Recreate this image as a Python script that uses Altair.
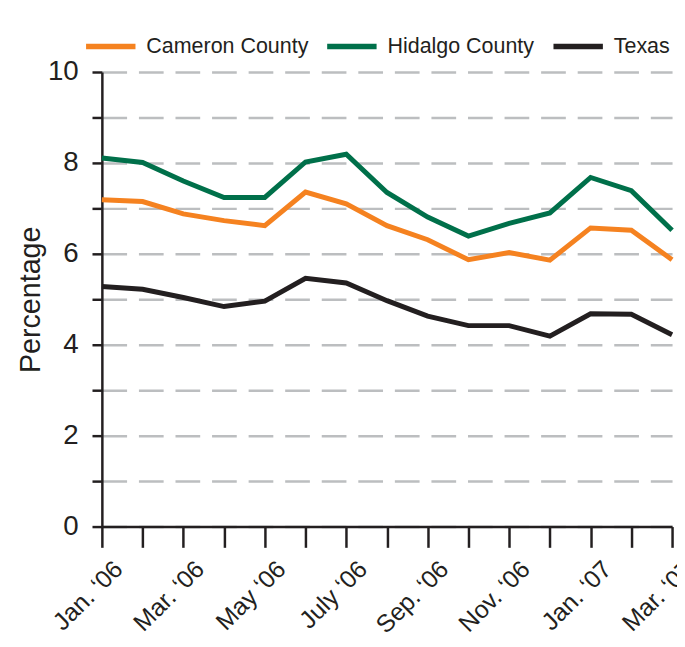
import altair as alt
import pandas as pd

months = ["Jan. ‘06", "Feb. ‘06", "Mar. ‘06", "Apr. ‘06", "May ‘06", "June ‘06", "July ‘06",
          "Aug. ‘06", "Sep. ‘06", "Oct. ‘06", "Nov. ‘06", "Dec. ‘06", "Jan. ‘07", "Feb. ‘07", "Mar. ‘07"]
cameron = [7.19, 7.15, 6.88, 6.73, 6.62, 7.36, 7.10, 6.62, 6.31, 5.87, 6.03, 5.86, 6.57, 6.52, 5.87]
hidalgo = [8.11, 8.01, 7.60, 7.24, 7.24, 8.02, 8.19, 7.35, 6.81, 6.39, 6.67, 6.90, 7.68, 7.39, 6.52]
texas = [5.28, 5.22, 5.04, 4.84, 4.96, 5.46, 5.36, 4.97, 4.63, 4.42, 4.42, 4.19, 4.68, 4.67, 4.22]
series = ["Cameron County", "Hidalgo County", "Texas"]
colors = ["#F58220", "#00704A", "#231F20"]
y_ticks = list(range(0, 11))

rows = []
for name, vals in zip(series, [cameron, hidalgo, texas]):
    for i, v in enumerate(vals):
        rows.append({"idx": i, "month": months[i], "series": name, "value": v})
df = pd.DataFrame(rows)

label_js = "[" + ",".join("'" + m + "'" for m in months) + "]"
x_label_expr = "datum.value % 2 == 0 ? " + label_js + "[datum.value] : ''"

FONT = "Liberation Sans"
INK = "#231F20"

chart = alt.Chart(df).mark_line(strokeWidth=5).encode(
    x=alt.X("idx:Q",
            scale=alt.Scale(domain=[0, len(months) - 1], nice=False, zero=False),
            axis=alt.Axis(values=list(range(len(months))), labelExpr=x_label_expr,
                          labelAngle=315, labelAlign="right", labelBaseline="top",
                          labelFontSize=25, labelFont=FONT, labelColor=INK,
                          labelPadding=9, labelOffset=8, labelOverlap=False,
                          tickSize=21, tickWidth=2.5, tickColor=INK,
                          domainWidth=2.5, domainColor=INK, grid=False, title=None)),
    y=alt.Y("value:Q",
            scale=alt.Scale(domain=[0, 10], nice=False),
            axis=alt.Axis(values=y_ticks, labelExpr="datum.value % 2 == 0 ? datum.label : ''",
                          labelFontSize=28, labelFont=FONT, labelColor=INK, labelPadding=14,
                          tickSize=10, tickWidth=2.5, tickColor=INK,
                          domainWidth=2.5, domainColor=INK,
                          grid=True, gridDash=[25, 12], gridColor="#BCBEC0", gridWidth=2.5,
                          title="Percentage", titleFontSize=29, titleFont=FONT,
                          titleFontWeight="normal", titleColor=INK, titlePadding=2)),
    color=alt.Color("series:N",
                    scale=alt.Scale(domain=series, range=colors),
                    legend=alt.Legend(orient="none", legendX=-19, legendY=-54,
                                      direction="horizontal", title=None,
                                      symbolType="stroke", symbolStrokeWidth=5.5,
                                      symbolSize=2500, labelFontSize=21.7, labelFont=FONT,
                                      labelColor=INK, labelLimit=400,
                                      columnPadding=8, labelOffset=8, padding=0))
).properties(
    width=577, height=460,
    autosize=alt.AutoSizeParams(type="none"),
    padding={"left": 95, "top": 61, "right": 5, "bottom": 110}
).configure_view(stroke=None)

chart.save("out.html", embed_options={"renderer": "svg", "actions": False})
